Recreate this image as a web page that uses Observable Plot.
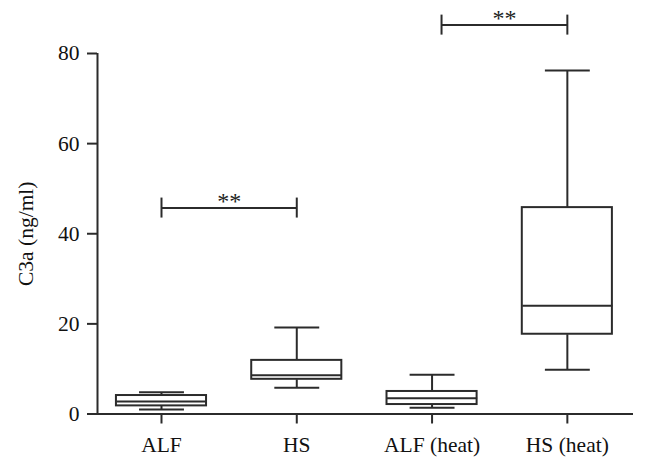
<!DOCTYPE html>
<html>
<head>
<meta charset="utf-8">
<script src="https://cdn.jsdelivr.net/npm/d3@7"></script>
<script src="https://cdn.jsdelivr.net/npm/@observablehq/plot@0.6"></script>
<style>
  html, body { margin: 0; padding: 0; background: #fff; }
  #chart svg { display: block; }
</style>
</head>
<body>
<div id="chart"></div>
<script>
// Data
const groups = ["ALF", "HS", "ALF (heat)", "HS (heat)"];
const whiskerLow  = [1.0, 5.8, 1.4, 9.8];
const q1          = [1.8, 7.7, 2.1, 17.7];
const median      = [2.8, 8.6, 3.5, 24.0];
const q3          = [4.1, 11.9, 5.0, 45.8];
const whiskerHigh = [4.8, 19.2, 8.7, 76.2];
const yTicks = [0, 20, 40, 60, 80];
const yLabel = "C3a (ng/ml)";

// significance brackets
const bracketFrom  = [1, 3.07];
const bracketTo    = [2, 4];
const bracketY     = [45.7, 86.3];
const bracketLabel = ["**", "**"];

const boxHalf = 0.333;   // half box width in x units
const capHalf = 0.166;   // half cap width
const ink = "#2b2b2b";
const font = "'Liberation Serif', 'DejaVu Serif', serif";
const fs = 21.5;

const boxes = groups.map((g, i) => ({
  g, pos: i + 1,
  lo: whiskerLow[i], q1: q1[i], med: median[i], q3: q3[i], hi: whiskerHigh[i]
}));
const brackets = bracketY.map((y, i) => ({
  x1: bracketFrom[i], x2: bracketTo[i], y, label: bracketLabel[i]
}));

const chart = Plot.plot({
  width: 648,
  height: 468,
  marginLeft: 97,
  marginRight: 15,
  marginTop: 53,
  marginBottom: 54.5,
  style: { fontFamily: font, fontSize: fs + "px", color: ink, background: "#fff" },
  x: { type: "linear", domain: [0.527, 4.489] },
  y: { domain: [0, 80] },
  marks: [
    // axes lines
    Plot.ruleX([0.527], { y1: 0, y2: 80, stroke: ink, strokeWidth: 2 }),
    Plot.ruleY([0], { x1: 0.527, x2: 4.489, stroke: ink, strokeWidth: 2 }),
    Plot.axisY({
      ticks: yTicks, tickSize: 10, tickPadding: 8, label: null,
      stroke: ink, strokeWidth: 2, fontSize: fs, fill: "#111"
    }),
    Plot.axisX({
      ticks: [1, 2, 3, 4], tickSize: 10, tickPadding: 13, label: null,
      tickFormat: d => groups[d - 1],
      stroke: ink, strokeWidth: 2, fontSize: fs, fill: "#111"
    }),
    Plot.text([yLabel], {
      frameAnchor: "left", dx: -71, dy: 0, rotate: -90,
      fontSize: fs, fill: "#111", textAnchor: "middle"
    }),
    // whiskers
    Plot.link(boxes, { x1: "pos", x2: "pos", y1: "lo", y2: "q1", stroke: ink, strokeWidth: 2 }),
    Plot.link(boxes, { x1: "pos", x2: "pos", y1: "q3", y2: "hi", stroke: ink, strokeWidth: 2 }),
    // caps
    Plot.link(boxes, { x1: d => d.pos - capHalf, x2: d => d.pos + capHalf, y1: "lo", y2: "lo", stroke: ink, strokeWidth: 2 }),
    Plot.link(boxes, { x1: d => d.pos - capHalf, x2: d => d.pos + capHalf, y1: "hi", y2: "hi", stroke: ink, strokeWidth: 2 }),
    // boxes
    Plot.rect(boxes, {
      x1: d => d.pos - boxHalf, x2: d => d.pos + boxHalf, y1: "q1", y2: "q3",
      fill: "white", stroke: ink, strokeWidth: 2
    }),
    // medians
    Plot.link(boxes, { x1: d => d.pos - boxHalf, x2: d => d.pos + boxHalf, y1: "med", y2: "med", stroke: ink, strokeWidth: 2 }),
    // significance brackets
    Plot.link(brackets, { x1: "x1", x2: "x2", y1: "y", y2: "y", stroke: ink, strokeWidth: 2 }),
    Plot.ruleX(brackets, { x: "x1", y1: "y", y2: "y", insetTop: -10, insetBottom: -10, stroke: ink, strokeWidth: 2 }),
    Plot.ruleX(brackets, { x: "x2", y1: "y", y2: "y", insetTop: -10, insetBottom: -10, stroke: ink, strokeWidth: 2 }),
    Plot.text(brackets, {
      x: d => (d.x1 + d.x2) / 2, y: "y", text: "label", dy: -7,
      fontSize: 24, fill: "#222", lineAnchor: "middle"
    })
  ]
});
document.getElementById("chart").appendChild(chart);
</script>
</body>
</html>
